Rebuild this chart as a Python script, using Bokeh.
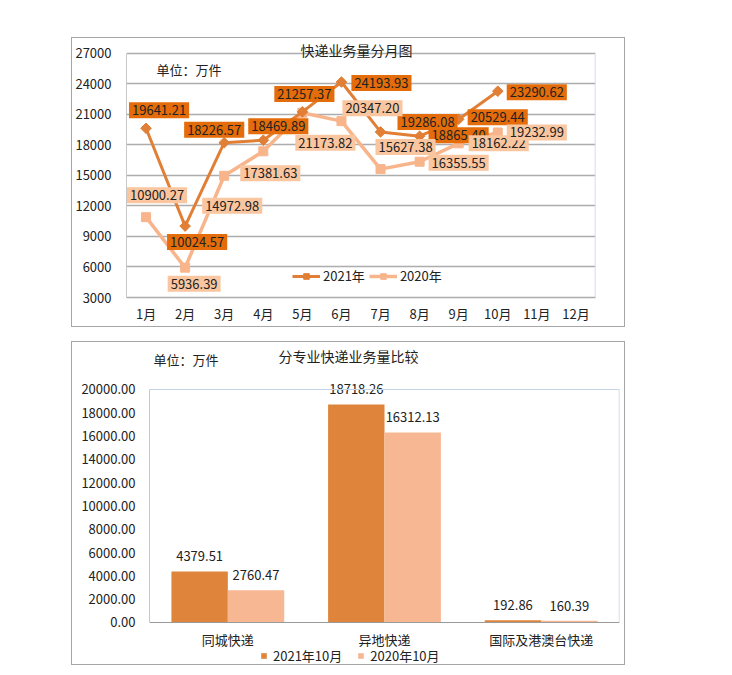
from bokeh.plotting import figure
from bokeh.models import (ColumnDataSource, FactorRange, Range1d, Legend, LegendItem,
                          Label, FixedTicker, Span, CustomJSTickFormatter)
from bokeh.transform import dodge
from bokeh.embed import file_html
from bokeh.resources import INLINE
from bokeh.core.properties import value
import numpy as np

FONT = "Noto Sans CJK SC"

# ---------------- data ----------------
months = ["1月", "2月", "3月", "4月", "5月", "6月", "7月", "8月", "9月", "10月", "11月", "12月"]
data_months = months[:10]
v2021 = [19641.21, 10024.57, 18226.57, 18469.89, 21257.37, 24193.93, 19286.08, 18865.40, 20529.44, 23290.62]
v2020 = [10900.27, 5936.39, 14972.98, 17381.63, 21173.82, 20347.20, 15627.38, 16355.55, 18162.22, 19232.99]
line_ticks = [3000, 6000, 9000, 12000, 15000, 18000, 21000, 24000, 27000]

categories = ["同城快递", "异地快递", "国际及港澳台快递"]
oct2021 = [4379.51, 18718.26, 192.86]
oct2020 = [2760.47, 16312.13, 160.39]
bar_ticks = [0, 2000, 4000, 6000, 8000, 10000, 12000, 14000, 16000, 18000, 20000]

# label placement (screen pixel offsets, style only)
off21_dx = [13, 12, -10, 15, 2, 40, 47, 39, 39, 39]
off21_dy = [-18, 16, -13, -14, -18, 1, -10, -1, -2, 1]
off20_dx = [11, 9, 8, 7, 23, 31, 25, 39, 40, 39]
off20_dy = [-22, 16, 30, 22, 30, -13, -22, 1, 0, 0]

C21_LINE = "#E07F35"
C21_LABEL = "#E46C0A"
C20_LINE = "#F8B58C"
C20_LABEL = "#FAC6A0"
BAR21 = "#DE853B"
BAR20 = "#F8B793"
TXT = "#222222"
FRAME = "1px solid #A6A6A6"
PLOT_EDGE = "#C5D3E6"

# ---------------- top: line chart ----------------
# headroom above the top tick so the title (drawn inside the frame) is not clipped
top_headroom = 1475
p1 = figure(width=554, height=290,
            x_range=FactorRange(*months, range_padding=0),
            y_range=Range1d(line_ticks[0], line_ticks[-1] + top_headroom),
            output_backend="svg", toolbar_location=None,
            min_border_left=50, min_border_right=31, min_border_top=0, min_border_bottom=31)
p1.styles = {"border": FRAME}
p1.background_fill_color = "white"
p1.border_fill_color = "white"
p1.outline_line_color = None
p1.xgrid.grid_line_color = None
p1.ygrid.grid_line_color = "#ADADAD"
p1.ygrid.grid_line_width = 1.3
p1.yaxis.ticker = FixedTicker(ticks=line_ticks)
p1.yaxis.bounds = (line_ticks[0], line_ticks[-1])
for ax in (p1.xaxis, p1.yaxis):
    ax.major_tick_line_color = None
    ax.minor_tick_line_color = None
    ax.major_label_text_font = FONT
    ax.major_label_text_font_size = "13px"
    ax.major_label_text_color = TXT
p1.yaxis.major_label_standoff = 9
p1.xaxis.major_label_standoff = 0
p1.yaxis.axis_line_color = "#C8C8C8"
p1.xaxis.axis_line_color = "#ADADAD"
p1.xaxis.axis_line_width = 1.3
# right edge of the plot area
p1.segment(x0=[len(months)], y0=[line_ticks[0]], x1=[len(months)], y1=[line_ticks[-1]],
           line_color=PLOT_EDGE, line_width=1.5)

s21 = ColumnDataSource(dict(x=data_months, y=v2021, t=[f"{v:.2f}" for v in v2021],
                            dx=off21_dx, dy=off21_dy))
s20 = ColumnDataSource(dict(x=data_months, y=v2020, t=[f"{v:.2f}" for v in v2020],
                            dx=off20_dx, dy=off20_dy))

l20 = p1.line("x", "y", source=s20, line_color=C20_LINE, line_width=3.5)
m20 = p1.scatter("x", "y", source=s20, marker="square", size=9,
                 fill_color=C20_LINE, line_color=C20_LINE)
l21 = p1.line("x", "y", source=s21, line_color=C21_LINE, line_width=3)
m21 = p1.scatter("x", "y", source=s21, marker="square", angle=np.pi / 4, size=7.5,
                 fill_color=C21_LINE, line_color=C21_LINE)

p1.text("x", "y", text="t", source=s21, x_offset="dx", y_offset="dy",
        text_align="center", text_baseline="middle",
        text_font=value(FONT), text_font_size="13px", text_color=TXT,
        background_fill_color=C21_LABEL, padding=3)
p1.text("x", "y", text="t", source=s20, x_offset="dx", y_offset="dy",
        text_align="center", text_baseline="middle",
        text_font=value(FONT), text_font_size="13px", text_color=TXT,
        background_fill_color=C20_LABEL, padding=3)

leg1 = Legend(items=[LegendItem(label="2021年", renderers=[l21, m21]),
                     LegendItem(label="2020年", renderers=[l20, m20])],
              orientation="horizontal", location=(166, 12),
              glyph_width=28, glyph_height=14, label_standoff=3, spacing=4,
              label_height=16, padding=0, margin=0, border_line_color=None,
              background_fill_alpha=0,
              label_text_font=FONT, label_text_font_size="13px", label_text_color=TXT)
p1.add_layout(leg1)

p1.add_layout(Label(x=230, y=248, x_units="screen", y_units="screen", text="快递业务量分月图",
                    text_align="center", text_baseline="middle",
                    text_font=FONT, text_font_size="14px", text_color=TXT))
p1.add_layout(Label(x=30, y=228, x_units="screen", y_units="screen", text="单位：万件",
                    text_align="left", text_baseline="middle",
                    text_font=FONT, text_font_size="13px", text_color=TXT))

# ---------------- bottom: bar chart ----------------
# the frame fills the canvas vertically; the x axis sits at value 0 inside it
bar_headroom = 4034
bar_footroom = 3777
p2 = figure(width=554, height=324,
            x_range=FactorRange(*categories, range_padding=0),
            y_range=Range1d(bar_ticks[0] - bar_footroom, bar_ticks[-1] + bar_headroom),
            output_backend="svg", toolbar_location=None,
            min_border_left=77, min_border_right=7, min_border_top=0, min_border_bottom=0)
p2.styles = {"border": FRAME}
p2.background_fill_color = "white"
p2.border_fill_color = "white"
p2.outline_line_color = None
p2.xgrid.grid_line_color = None
p2.ygrid.grid_line_color = None
p2.yaxis.ticker = FixedTicker(ticks=bar_ticks)
p2.yaxis.bounds = (bar_ticks[0], bar_ticks[-1])
p2.yaxis.formatter = CustomJSTickFormatter(code="return tick.toFixed(2);")
p2.xaxis.fixed_location = bar_ticks[0]
for ax in (p2.xaxis, p2.yaxis):
    ax.major_tick_line_color = None
    ax.minor_tick_line_color = None
    ax.major_label_text_font = FONT
    ax.major_label_text_font_size = "13px"
    ax.major_label_text_color = TXT
p2.yaxis.major_label_standoff = 8
p2.xaxis.major_label_standoff = 2
p2.yaxis.axis_line_color = "#BCC8D8"
p2.xaxis.axis_line_color = "#9A9A9A"
# top and right edges of the plot area
p2.add_layout(Span(location=bar_ticks[-1], dimension="width", line_color=PLOT_EDGE, line_width=1.2))
p2.segment(x0=[len(categories)], y0=[bar_ticks[0]], x1=[len(categories)], y1=[bar_ticks[-1]],
           line_color=PLOT_EDGE, line_width=1.5)

sb = ColumnDataSource(dict(cat=categories, a=oct2021, b=oct2020,
                           ta=[f"{v:.2f}" for v in oct2021],
                           tb=[f"{v:.2f}" for v in oct2020]))
b21 = p2.vbar(x=dodge("cat", -0.18, range=p2.x_range), top="a", width=0.36, source=sb,
              fill_color=BAR21, line_color=None)
b20 = p2.vbar(x=dodge("cat", 0.18, range=p2.x_range), top="b", width=0.36, source=sb,
              fill_color=BAR20, line_color=None)
p2.text(x=dodge("cat", -0.18, range=p2.x_range), y="a", text="ta", source=sb, y_offset=-15,
        text_align="center", text_baseline="middle",
        text_font=value(FONT), text_font_size="13px", text_color=TXT)
p2.text(x=dodge("cat", 0.18, range=p2.x_range), y="b", text="tb", source=sb, y_offset=-15,
        text_align="center", text_baseline="middle",
        text_font=value(FONT), text_font_size="13px", text_color=TXT)

leg2 = Legend(items=[LegendItem(label="2021年10月", renderers=[b21]),
                     LegendItem(label="2020年10月", renderers=[b20])],
              orientation="horizontal", location=(111, 1),
              glyph_width=7, glyph_height=7, label_standoff=6, spacing=15,
              label_height=16, padding=0, margin=0, border_line_color=None,
              background_fill_alpha=0,
              label_text_font=FONT, label_text_font_size="13px", label_text_color=TXT)
p2.add_layout(leg2)

p2.add_layout(Label(x=199, y=311, x_units="screen", y_units="screen", text="分专业快递业务量比较",
                    text_align="center", text_baseline="middle",
                    text_font=FONT, text_font_size="14px", text_color=TXT))
p2.add_layout(Label(x=4, y=307, x_units="screen", y_units="screen", text="单位：万件",
                    text_align="left", text_baseline="middle",
                    text_font=FONT, text_font_size="13px", text_color=TXT))

p1.margin = (37, 0, 0, 71)
p2.margin = (14, 0, 0, 71)

open("out.html", "w").write(file_html([p1, p2], INLINE))
